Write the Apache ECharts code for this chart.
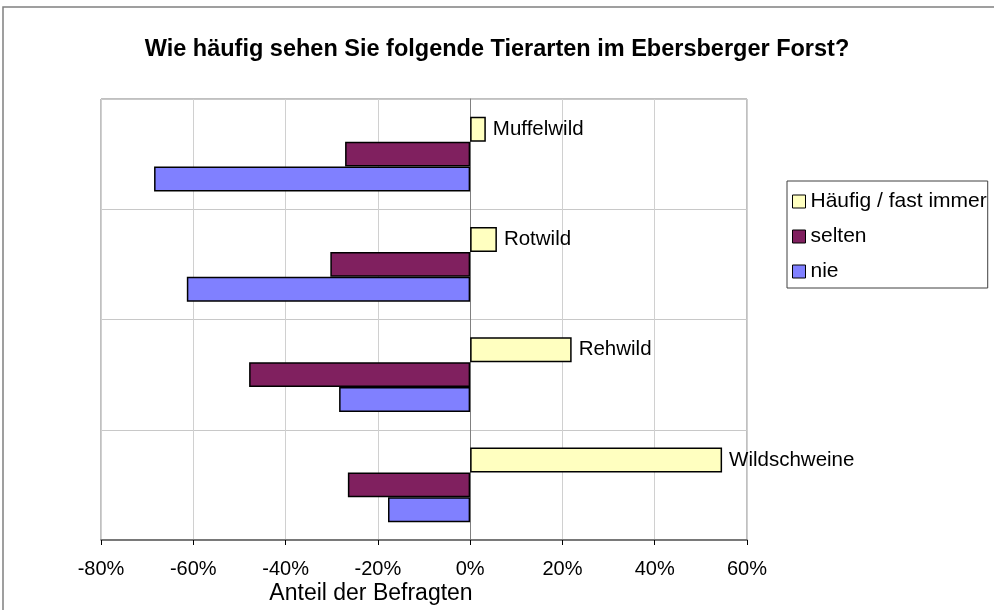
<!DOCTYPE html>
<html>
<head>
<meta charset="utf-8">
<script src="https://cdn.jsdelivr.net/npm/echarts@6/dist/echarts.min.js"></script>
<style>html,body{margin:0;padding:0;background:#fff}#c{width:994px;height:610px}</style>
</head>
<body>
<div id="c"></div>
<script>
const categories = ['Muffelwild', 'Rotwild', 'Rehwild', 'Wildschweine'];
const seriesNames = ['Häufig / fast immer', 'selten', 'nie'];
const haeufig = [3.4, 5.8, 22.0, 54.6];
const selten = [-27.1, -30.3, -47.9, -26.5];
const nie = [-68.5, -61.4, -28.4, -17.8];
const colors = ['#FFFFC0', '#80205F', '#8080FF'];
const FONT = 'Liberation Sans, Arial, sans-serif';

const chart = echarts.init(document.getElementById('c'), null, {renderer: 'canvas'});
const barStyle = (c) => ({color: c, borderColor: '#000', borderWidth: 1.5});
chart.setOption({
  animation: false,
  backgroundColor: '#fff',
  textStyle: {fontFamily: FONT},
  title: {
    text: 'Wie häufig sehen Sie folgende Tierarten im Ebersberger Forst?',
    left: 'center', top: 33,
    textStyle: {fontFamily: FONT, fontSize: 23.5, fontWeight: 'bold', color: '#000'}
  },
  legend: {
    orient: 'vertical', left: 787, top: 181,
    padding: [10, 1, 6, 5],
    itemWidth: 13, itemHeight: 13, itemGap: 14,
    borderColor: '#404040', borderWidth: 1,
    icon: 'rect',
    itemStyle: {borderColor: '#000', borderWidth: 1},
    textStyle: {fontFamily: FONT, fontSize: 21, color: '#000', lineHeight: 21},
    data: seriesNames
  },
  grid: {left: 101, right: 247, top: 99, bottom: 70, show: true, borderColor: '#808080', borderWidth: 1, containLabel: false},
  xAxis: {
    type: 'value', min: -80, max: 60, interval: 20,
    axisLine: {show: true, lineStyle: {color: '#606060', width: 1.5}},
    axisTick: {show: true, length: 5, lineStyle: {color: '#000'}},
    axisLabel: {formatter: '{value}%', fontFamily: FONT, fontSize: 20, color: '#000', margin: 19},
    splitLine: {show: true, lineStyle: {color: '#d0d0d0', width: 1}}
  },
  yAxis: {
    type: 'category', data: categories, inverse: true,
    axisLine: {show: true, lineStyle: {color: '#808080'}},
    axisTick: {show: false},
    axisLabel: {show: false},
    splitLine: {show: true, lineStyle: {color: '#c8c8c8', width: 1}}
  },
  graphic: [
    {type: 'rect', shape: {x: 3, y: 7, width: 1200, height: 800}, style: {fill: 'none', stroke: '#808080', lineWidth: 1.5}, silent: true},
    {type: 'text', x: 371, y: 594, style: {text: 'Anteil der Befragten', font: '23px ' + FONT, fill: '#000', textAlign: 'center', textVerticalAlign: 'middle'}}
  ],
  series: [
    {name: seriesNames[0], type: 'bar', data: haeufig, barGap: '0%', barCategoryGap: '32%', itemStyle: barStyle(colors[0]),
     label: {show: true, position: 'right', distance: 7, formatter: '{b}', fontFamily: FONT, fontSize: 20.5, color: '#000'}},
    {name: seriesNames[1], type: 'bar', data: selten, barGap: '0%', barCategoryGap: '32%', itemStyle: barStyle(colors[1])},
    {name: seriesNames[2], type: 'bar', data: nie, barGap: '0%', barCategoryGap: '32%', itemStyle: barStyle(colors[2])}
  ]
});
</script>
</body>
</html>
